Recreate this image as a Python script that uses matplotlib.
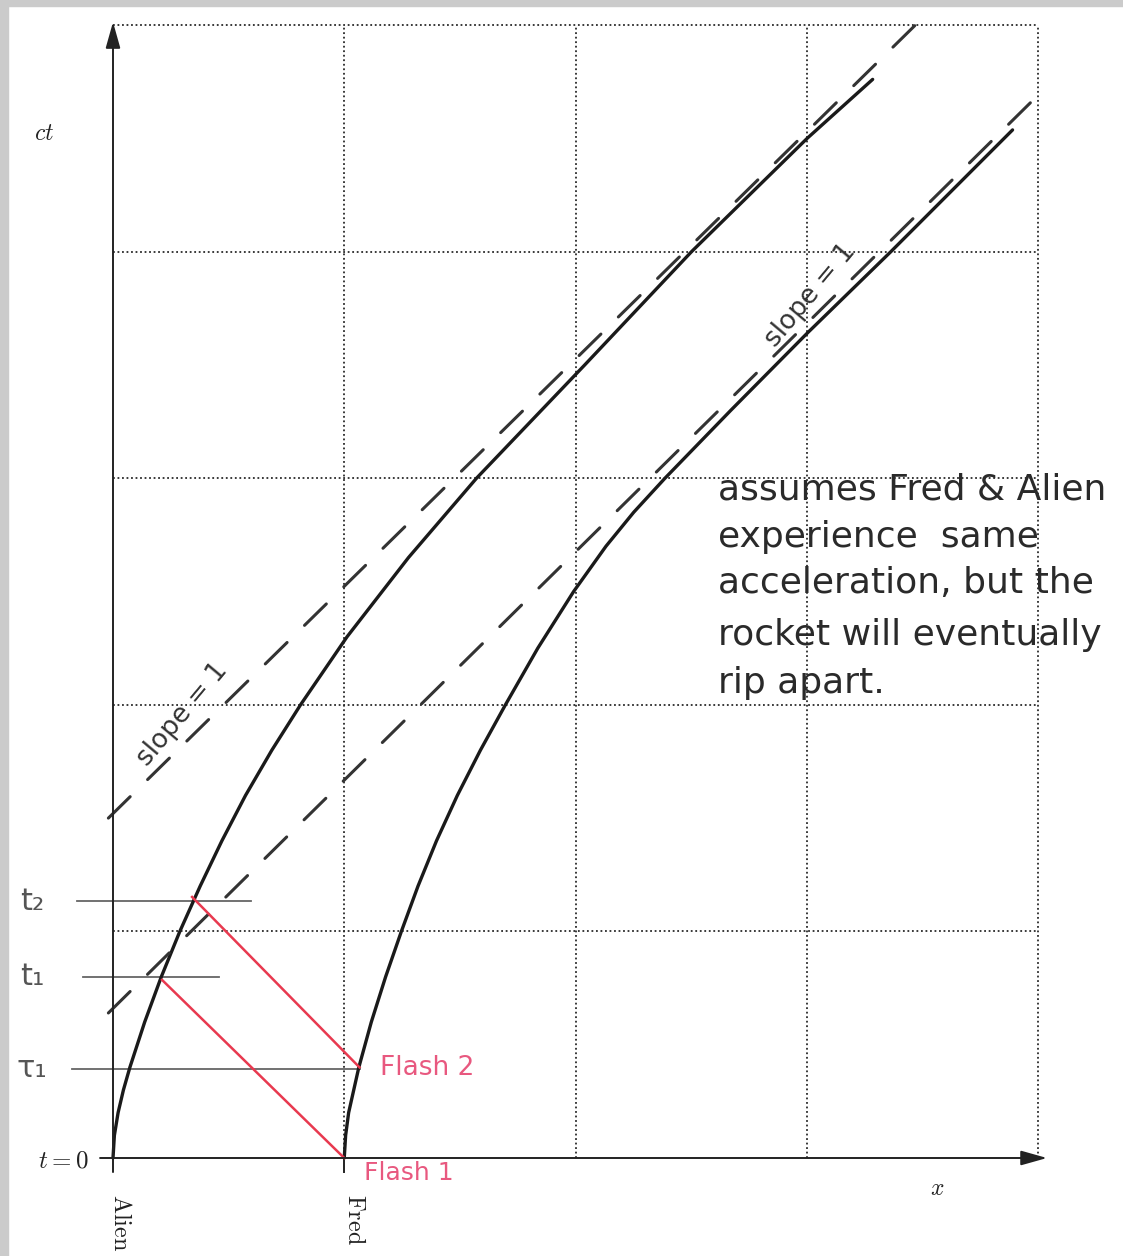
import matplotlib
matplotlib.use('Agg')
import matplotlib.pyplot as plt
from matplotlib.patches import Rectangle

plt.rcParams['mathtext.fontset'] = 'cm'

# ---------------- data (grid units: x in cells, ct in cells) ----------------
grid_x = [1, 2, 3, 4]
grid_ct = [1, 2, 3, 4, 5]
x_max, ct_max = 4, 5

alien_ct = [0, 0.1, 0.2, 0.3, 0.4, 0.6, 0.8, 1.0, 1.2, 1.4, 1.6, 1.8, 2.0, 2.3, 2.65, 3.0, 3.5, 4.0, 4.5, 4.76]
alien_x = [0, 0.006, 0.022, 0.045, 0.073, 0.137, 0.209, 0.289, 0.377, 0.471, 0.573, 0.687, 0.811, 1.012,
           1.278, 1.572, 2.04, 2.502, 3.002, 3.285]

fred_ct = [0, 0.1, 0.2, 0.4, 0.6, 0.8, 1.0, 1.2, 1.4, 1.6, 1.8, 2.0, 2.25, 2.5, 2.7, 2.85, 3.0, 3.3, 3.64,
           4.0, 4.537]
fred_x = [1.0, 1.006, 1.019, 1.063, 1.117, 1.179, 1.247, 1.319, 1.399, 1.489, 1.589, 1.697, 1.837, 1.992,
          2.132, 2.252, 2.387, 2.672, 3.002, 3.364, 3.89]

alien_asym_x = [-0.02, 3.47]
alien_asym_ct = [1.50, 5.0]
fred_asym_x = [-0.02, 4.0]
fred_asym_ct = [0.64, 4.69]

# light signals: (emission x, reception x), (emission ct, reception ct)
flash1 = ([1.0, 0.212], [0.0, 0.786])
flash2 = ([1.066, 0.342], [0.400, 1.152])

# horizontal time markers
t_labels = ['t\u2082', 't\u2081', '\u03c4\u2081']
t_levels = [1.134, 0.799, 0.393]
t_starts = [-0.156, -0.13, -0.177]
t_ends = [0.597, 0.458, 1.068]

note_lines = ['assumes Fred & Alien', 'experience  same', 'acceleration, but the',
              'rocket will eventually', 'rip apart.']

# ---------------- figure ----------------
W, H = 1123, 1256
fig = plt.figure(figsize=(W / 100, H / 100), dpi=100)
ax = fig.add_axes([0, 0, 1, 1])
X0PX, Y0PX, SX, SY = 113, 1158, 231.25, 226.6
ax.set_xlim((0 - X0PX) / SX, (W - X0PX) / SX)
ax.set_ylim((Y0PX - H) / SY, Y0PX / SY)
ax.axis('off')


def P(px, py):
    return ((px - X0PX) / SX, (Y0PX - py) / SY)


# scanner frame
fig.patches.append(Rectangle((0, 0), 8 / W, 1, transform=fig.transFigure, color='#cbcbcb', zorder=0))
fig.patches.append(Rectangle((0, 1 - 6 / H), 1, 6 / H, transform=fig.transFigure, color='#cbcbcb', zorder=0))

# dotted grid
dot = (0, (1, 1.5))
for gx in grid_x:
    ax.plot([gx, gx], [0, ct_max], ls=dot, color='#2a2a2a', lw=1.3)
for gy in grid_ct:
    ax.plot([0, x_max], [gy, gy], ls=dot, color='#2a2a2a', lw=1.3)

# axes with arrows
ax.annotate('', xy=(0, 5.013), xytext=(0, -0.062),
            arrowprops=dict(arrowstyle='-|>,head_length=1.6,head_width=0.45', lw=1.4,
                            color='#222222', shrinkA=0, shrinkB=0))
ax.annotate('', xy=(4.039, 0), xytext=(-0.056, 0),
            arrowprops=dict(arrowstyle='-|>,head_length=1.6,head_width=0.45', lw=1.4,
                            color='#222222', shrinkA=0, shrinkB=0))
ax.plot([1, 1], [0, -0.062], color='#222222', lw=1.4)

# time marker lines
for lev, xs, xe in zip(t_levels, t_starts, t_ends):
    ax.plot([xs, xe], [lev, lev], color='#666666', lw=1.3)

# world lines
ax.plot(alien_x, alien_ct, color='#1a1a1a', lw=2.4, solid_capstyle='round', solid_joinstyle='round')
ax.plot(fred_x, fred_ct, color='#1a1a1a', lw=2.4, solid_capstyle='round', solid_joinstyle='round')

# asymptotes (hand-drawn dashes)
ax.plot(alien_asym_x, alien_asym_ct, color='#333333', lw=2.2, ls=(0, (10, 8)), dash_capstyle='round')
ax.plot(fred_asym_x, fred_asym_ct, color='#333333', lw=2.2, ls=(0, (10, 8)), dash_capstyle='round')

# light signals
red = '#e8394f'
ax.plot(*flash1, color=red, lw=1.8)
ax.plot(*flash2, color=red, lw=1.8)

# ---------------- text ----------------
ax.text(*P(44, 133), r'$ct$', fontsize=17, ha='center', va='center', color='#222222')
ax.text(*P(937, 1188), r'$x$', fontsize=17, ha='center', va='center', color='#222222')
ax.text(*P(89, 1160), r'$t = 0$', fontsize=18, ha='right', va='center', color='#222222')
ax.text(*P(121, 1194), r'$\mathrm{Alien}$', fontsize=17.5, rotation=-90, ha='center', va='top', color='#222222')
ax.text(*P(355, 1194), r'$\mathrm{Fred}$', fontsize=17.5, rotation=-90, ha='center', va='top', color='#222222')

for lab, lev in zip(t_labels, t_levels):
    ax.text(-0.35, lev, lab, fontsize=22, ha='center', va='center', color='#555555', family='DejaVu Sans')

pink = '#e8587f'
ax.text(*P(380, 1068), 'Flash 2', fontsize=19, ha='left', va='center', color=pink, family='DejaVu Sans')
ax.text(*P(364, 1173), 'Flash 1', fontsize=18, ha='left', va='center', color=pink, family='DejaVu Sans')

ax.text(*P(182, 714), 'slope = 1', fontsize=19, rotation=50, ha='center', va='center', color='#333333')
ax.text(*P(810, 295), 'slope = 1', fontsize=19, rotation=50, ha='center', va='center', color='#333333')

note_y = [490, 537, 583, 635, 683]
for line, ny in zip(note_lines, note_y):
    ax.text(*P(718, ny), line, fontsize=26, ha='left', va='center', color='#2a2a2a', family='DejaVu Sans')

fig.savefig('out.png', dpi=100)
